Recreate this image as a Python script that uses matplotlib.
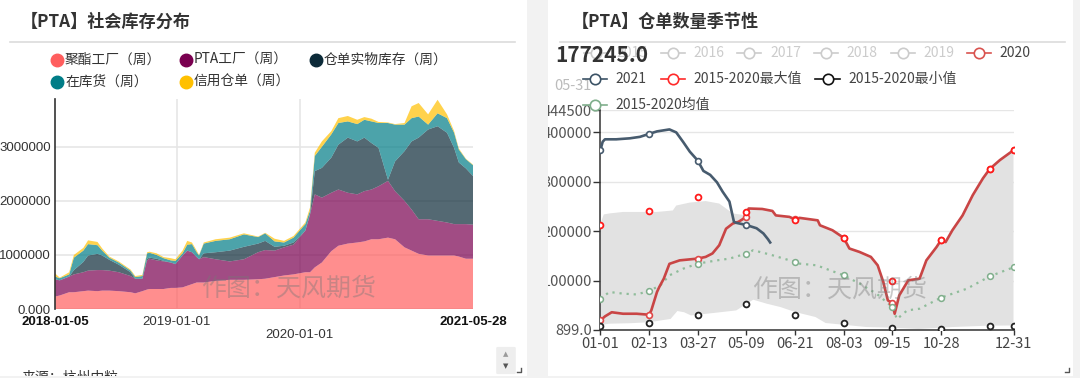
import numpy as np
import pandas as pd
import matplotlib
matplotlib.use('Agg')
import matplotlib.pyplot as plt
import matplotlib.dates as mdates
from matplotlib.lines import Line2D
from matplotlib.patches import Rectangle, FancyBboxPatch

plt.rcParams['font.family'] = ['Noto Sans CJK SC', 'DejaVu Sans']

W, H = 1080, 378


def fx(x):
    return x / W


def fy(y):
    return 1 - y / H


# ---------- left: social inventory (10k tonnes) ----------
stock_dates = ['2018-01-05', '2018-01-19', '2018-02-16', '2018-03-02', '2018-03-30', '2018-04-13',
               '2018-05-11', '2018-05-25', '2018-06-15', '2018-07-13', '2018-08-17', '2018-08-31',
               '2018-09-21', '2018-10-05', '2018-10-12', '2018-11-02', '2018-11-23', '2018-12-14',
               '2018-12-28', '2019-01-18', '2019-02-01', '2019-02-15', '2019-03-01', '2019-03-08',
               '2019-03-22', '2019-04-26', '2019-06-07', '2019-07-19', '2019-08-30', '2019-09-20',
               '2019-10-18', '2019-11-15', '2019-12-13', '2020-01-17', '2020-01-31', '2020-02-14',
               '2020-03-06', '2020-04-03', '2020-04-24', '2020-05-22', '2020-06-19', '2020-07-10',
               '2020-07-31', '2020-08-21', '2020-09-18', '2020-10-09', '2020-11-06', '2020-11-27',
               '2020-12-18', '2021-01-15', '2021-02-12', '2021-03-12', '2021-04-02', '2021-04-16',
               '2021-05-07', '2021-05-28']
polyester = [23, 25, 31, 31, 33, 34, 33, 34, 34, 33, 31, 29, 33, 36, 37, 37, 37, 39, 39,
             40, 43, 46, 49, 49, 49, 52, 54, 54, 55, 56, 59, 62, 64,
             68, 68, 77, 86, 107, 117, 121, 123, 125, 129, 129, 132, 129, 114, 108, 102,
             99, 99, 99, 99, 97, 93, 93]
pta_plant = [32, 28, 29, 33, 35, 37, 39, 38, 37, 35, 30, 27, 23, 54, 56, 53, 51, 47, 44,
             59, 65, 59, 47, 43, 47, 40, 34, 38, 50, 53, 49, 52, 55,
             77, 107, 135, 120, 108, 104, 94, 89, 93, 92, 98, 105, 89, 86, 76, 64,
             67, 64, 61, 58, 60, 64, 63]
warrant_physical = [0, 0, 0, 8, 19, 28, 30, 27, 20, 14, 7, 0, 0, 3, 2, 3, 1, 0, 0,
                    0, 0, 0, 0, 0, 7, 13, 20, 23, 16, 17, 7, 3, 4,
                    0, 0, 43, 55, 65, 83, 102, 98, 99, 86, 71, 2, 55, 92, 126, 151,
                    166, 175, 166, 141, 114, 103, 90]
in_stock = [5, 4, 4, 23, 21, 21, 16, 9, 4, 4, 3, 3, 5, 10, 9, 7, 5, 4, 6,
            4, 11, 15, 9, 7, 18, 21, 21, 23, 12, 14, 10, 6, 9,
            12, 7, 28, 39, 43, 40, 30, 32, 33, 40, 46, 105, 68, 49, 43, 39,
            9, 24, 27, 28, 24, 17, 20]
credit_warrant = [6, 1, 4, 5, 5, 7, 6, 4, 2, 2, 2, 2, 2, 2, 2, 3, 2, 4, 3,
                  5, 7, 3, 3, 1, 2, 3, 3, 2, 1, 1, 5, 3, 3,
                  3, 6, 6, 10, 6, 9, 10, 8, 5, 5, 2, 1, 1, 3, 22, 25,
                  19, 25, 7, 3, 2, 1, 1]
stock_labels = ['聚酯工厂（周）', 'PTA工厂（周）', '仓单实物库存（周）', '在库货（周）', '信用仓单（周）']
stock_colors = ['#ff5e5e', '#7a0050', '#0c2a38', '#007d87', '#ffc000']
left_yticks = [0, 1000000, 2000000, 3000000]
left_ytick_labels = ['0.000', '1000000', '2000000', '3000000']
left_xticks = ['2018-01-05', '2019-01-01', '2020-01-01', '2021-05-28']

# ---------- right: warrant seasonality (day of year, tonnes/1000) ----------
season_ticks = [0, 43, 86, 129, 172, 215, 258, 301, 365]
season_tick_labels = ['01-01', '02-13', '03-27', '05-09', '06-21', '08-03', '09-15', '10-28', '12-31']
marker_days = [0, 43, 86, 129, 172, 215, 258, 301, 344, 365]

y2020_days = [0, 4, 10, 20, 32, 43, 45, 50, 52, 56, 61, 70, 86, 93, 99, 105, 111, 117, 122, 129,
              131, 143, 152, 155, 167, 172, 176, 192, 194, 205, 215, 220, 229, 239, 245, 250,
              254, 258, 260, 264, 272, 282, 288, 297, 301, 305, 311, 320, 329, 338, 344, 353, 365]
y2020_vals = [19.5, 27.6, 36, 33, 33, 31, 40, 77, 87, 104, 134, 141, 144.6, 148, 155, 171.6, 205,
              215.6, 219, 229, 246, 245, 241, 232, 229, 224, 227, 222, 212, 202, 186.6, 165, 158,
              148, 131, 97, 60, 55, 33, 70, 100.6, 104, 141, 168, 182, 178, 202, 232, 273, 307,
              326, 344, 364]
y2021_days = [0, 2, 4, 14, 26, 35, 43, 50, 61, 67, 73, 79, 86, 91, 97, 103, 108, 114, 118, 120,
              129, 138, 144, 148, 150]
y2021_vals = [364, 381, 386, 386, 388, 391, 397, 402, 406, 400, 381, 361, 343, 322, 314, 299, 280,
              260, 219, 217, 212.5, 206, 195.5, 184, 177.245]
mean_days = [0, 8, 20, 32, 43, 53, 61, 73, 86, 103, 114, 129, 135, 150, 172, 176, 191, 215, 229,
             244, 258, 262, 271, 282, 301, 324, 344, 365]
mean_vals = [63.5, 77, 73.7, 72, 79, 90.5, 110.7, 124, 134.4, 141, 144.5, 154.8, 161.5, 152.7,
             137.8, 134.4, 131, 110.7, 94, 73.6, 46.5, 22, 39.7, 43.2, 65.6, 83.8, 108.7, 127]
max_vals = [212, 240.5, 269.5, 238, 223.7, 185.8, 98.6, 181.7, 326, 363.6]
min_vals = [7.3, 14.8, 29.6, 53.3, 31, 14, 4.7, 2.7, 8.8, 7.3]
band_top_days = [0, 3, 8, 20, 50, 64, 67, 79, 93, 105, 111, 117, 126, 129]
band_top_vals = [215.6, 234, 236, 239, 239, 242, 252, 258, 261, 256, 246, 236, 233, 233]
band_low_days = [0, 7, 26, 43, 62, 68, 74, 80, 99, 120, 135, 147, 159, 172, 190, 199, 214, 235,
                 257, 281, 311, 342, 365]
band_low_vals = [9.3, 12.8, 13.8, 15.8, 22.5, 38.5, 36, 29.6, 34.3, 39.7, 61.4, 53.3, 46.6, 36.5,
                 26.4, 14.2, 10.9, 6.1, 4.8, 2.1, 6.1, 8.8, 9.3]
right_yticks = [899, 100000, 200000, 300000, 400000, 444500]
right_ytick_labels = ['899.0', '100000', '200000', '300000', '400000', '444500']

fig = plt.figure(figsize=(W / 100, H / 100), dpi=100)
fig.patch.set_facecolor('white')

# ================= left panel =================
ax1 = fig.add_axes([fx(55), fy(309), fx(473) - fx(55), (309 - 98.9) / H])
dates = pd.to_datetime(stock_dates)
layers = [np.array(s) * 1e4 for s in [polyester, pta_plant, warrant_physical, in_stock, credit_warrant]]
ax1.stackplot(dates, layers, colors=stock_colors, alpha=0.7, linewidth=0, zorder=2)
ax1.set_xlim(pd.Timestamp(stock_dates[0]), pd.Timestamp(stock_dates[-1]))
ax1.set_ylim(0, 3.886e6)
ax1.set_yticks(left_yticks)
ax1.set_yticklabels(left_ytick_labels, family='Liberation Sans', fontsize=9.5, color='#333333')
ax1.tick_params(axis='y', length=0, pad=3)
ax1.set_xticks([])
ax1.grid(axis='y', color='#e6e6e6', lw=1.2, zorder=0)
for d in left_xticks[1:3]:
    ax1.axvline(pd.Timestamp(d), color='#e6e6e6', lw=1.2, zorder=0)
for s in ['top', 'right', 'bottom']:
    ax1.spines[s].set_visible(False)
ax1.spines['left'].set_color('#333333')
ax1.spines['left'].set_linewidth(1.2)
ax1.set_axisbelow(True)

axh = 309 - 98.9
for i, d in enumerate(left_xticks):
    bold = i in (0, 3)
    row_off = 26 if i == 2 else 13.3
    ax1.text(mdates.date2num(pd.Timestamp(d)), -row_off / axh, d, transform=ax1.get_xaxis_transform(),
             ha='center', va='center', family='Liberation Sans', fontsize=9.5,
             fontweight='bold' if bold else 'normal', color='#111111' if bold else '#333333')

fig.text(fx(289), fy(289), '作图：天风期货', fontsize=18, color='#777777', alpha=0.4,
         ha='center', va='center', zorder=6)

fig.text(fx(21), fy(22), '【PTA】社会库存分布', fontsize=12.3, fontweight='bold', color='#333333',
         va='center', ha='left')
fig.add_artist(Line2D([fx(10), fx(515)], [fy(42.3)] * 2, transform=fig.transFigure, color='#dcdcdc', lw=1.2))

leg_pos = [(57, 60), (186, 60), (316, 60), (57, 82), (186, 82)]
for (lx, ly), lab, col in zip(leg_pos, stock_labels, stock_colors):
    fig.add_artist(Line2D([fx(lx)], [fy(ly)], transform=fig.transFigure, marker='o', ms=9,
                          color=col, linestyle='none'))
    fig.text(fx(lx + 8), fy(ly), lab, fontsize=9.9, color='#333333', va='center', ha='left')

fig.text(fx(22), fy(370.5), '来源：杭州中粒', fontsize=10, color='#333333', va='top', ha='left')
fig.add_artist(FancyBboxPatch((fx(498), fy(373)), fx(16), 25 / H, boxstyle='round,pad=0.001',
                              transform=fig.transFigure, color='#eeeeee', zorder=4))
fig.text(fx(506), fy(354), '▲', fontsize=5, color='#9a9a9a', ha='center', va='center',
         family='DejaVu Sans', zorder=5)
fig.text(fx(506), fy(366), '▼', fontsize=5, color='#555555', ha='center', va='center',
         family='DejaVu Sans', zorder=5)

# ================= right panel =================
ax2 = fig.add_axes([fx(600.4), fy(329.6), (1013.5 - 600.4) / W, (329.6 - 110.4) / H])
k = 1000.0
top_x = band_top_days + [d for d in y2020_days if d > band_top_days[-1]]
top_y = band_top_vals + [v for d, v in zip(y2020_days, y2020_vals) if d > band_top_days[-1]]
poly_x = top_x + band_low_days[::-1]
poly_y = top_y + band_low_vals[::-1]
ax2.fill(poly_x, np.array(poly_y) * k, color='#e2e2e2', lw=0, zorder=1)

ax2.plot(mean_days, np.array(mean_vals) * k, color='#8fbc9a', lw=1.6, ls=(0, (1, 2.2)), zorder=2)
ax2.plot(marker_days, np.array(max_vals) * k, ls='none', marker='o', ms=4.2, mfc='white',
         mec='#ff1a1a', mew=1.3, zorder=5)
ax2.plot(marker_days, np.array(min_vals) * k, ls='none', marker='o', ms=4.2, mfc='white',
         mec='#222222', mew=1.3, zorder=5)
ax2.plot(marker_days, np.interp(marker_days, mean_days, mean_vals) * k, ls='none', marker='o', ms=4.2,
         mfc='white', mec='#7fae8b', mew=1.1, zorder=4)

idx20 = [y2020_days.index(d) for d in marker_days]
ax2.plot(y2020_days, np.array(y2020_vals) * k, color='#c94545', lw=1.9, zorder=3,
         marker='o', markevery=idx20, ms=4.2, mfc='white', mec='#e04848', mew=1.2)
idx21 = [y2021_days.index(d) for d in marker_days if d in y2021_days]
ax2.plot(y2021_days, np.array(y2021_vals) * k, color='#475b6e', lw=1.9, zorder=3,
         marker='o', markevery=idx21, ms=4.2, mfc='white', mec='#475b6e', mew=1.2)

ax2.set_xlim(0, 365)
ax2.set_ylim(899, 444500)
ax2.set_xticks(season_ticks)
ax2.set_xticklabels(season_tick_labels, fontsize=10.5, color='#444444')
ax2.set_yticks(right_yticks)
ax2.set_yticklabels(right_ytick_labels, fontsize=10.6, color='#555555')
ax2.tick_params(axis='x', length=3.6, width=1, color='#333333', pad=2)
ax2.tick_params(axis='y', length=5, width=1, color='#333333', pad=1)
ax2.grid(axis='y', color='#e6e6e6', lw=1, zorder=0)
ax2.set_axisbelow(True)
for s in ['top', 'right']:
    ax2.spines[s].set_visible(False)
for s in ['left', 'bottom']:
    ax2.spines[s].set_color('#333333')
    ax2.spines[s].set_linewidth(1.1)

fig.text(fx(840), fy(290), '作图：天风期货', fontsize=18, color='#777777', alpha=0.4,
         ha='center', va='center', zorder=6)

fig.text(fx(572), fy(22), '【PTA】仓单数量季节性', fontsize=12.3, fontweight='bold', color='#333333',
         va='center', ha='left')
fig.add_artist(Line2D([fx(560), fx(1065)], [fy(42)] * 2, transform=fig.transFigure, color='#dcdcdc', lw=1.2))

fig.text(fx(554), fy(86), '05-31', fontsize=10.5, color='#bbbbbb', va='center', ha='left', zorder=1)

season_legend = [
    (595.8, 53.3, '#cccccc', '2015', '#cccccc'),
    (672.6, 53.3, '#cccccc', '2016', '#cccccc'),
    (749.4, 53.3, '#cccccc', '2017', '#cccccc'),
    (825.8, 53.3, '#cccccc', '2018', '#cccccc'),
    (902.6, 53.3, '#cccccc', '2019', '#cccccc'),
    (979.0, 53.3, '#d9534f', '2020', '#444444'),
    (595.0, 79.0, '#3c5366', '2021', '#444444'),
    (673.3, 79.0, '#ff2a2a', '2015-2020最大值', '#444444'),
    (827.5, 79.0, '#111111', '2015-2020最小值', '#444444'),
    (595.0, 105.0, '#7fae8b', '2015-2020均值', '#444444'),
]
for lx, ly, col, lab, tcol in season_legend:
    fig.add_artist(Line2D([fx(lx - 12), fx(lx + 12)], [fy(ly)] * 2, transform=fig.transFigure,
                          color=col, lw=1.2, zorder=2))
    fig.add_artist(Line2D([fx(lx)], [fy(ly)], transform=fig.transFigure, marker='o', ms=7.5,
                          mfc='white', mec=col, mew=1.2, linestyle='none', zorder=2))
    fig.text(fx(lx + 20.6), fy(ly), lab, fontsize=10, color=tcol, va='center', ha='left', zorder=2)

fig.text(fx(555), fy(55), '177245.0', fontsize=15, fontweight='bold', color='#333333',
         va='center', ha='left', zorder=5)

# page background strips
fig.add_artist(Rectangle((fx(527), 0), fx(548) - fx(527), 1, transform=fig.transFigure,
                         color='#f2f2f2', lw=0, zorder=10))
fig.add_artist(Rectangle((fx(1073), 0), fx(1080) - fx(1073), 1, transform=fig.transFigure,
                         color='#f2f2f2', lw=0, zorder=10))
fig.add_artist(Rectangle((0, 0), 1, 2 / H, transform=fig.transFigure, color='#f2f2f2', lw=0, zorder=10))
for cx in (521, 1069):
    fig.add_artist(Line2D([fx(cx - 4), fx(cx), fx(cx)], [fy(372), fy(372), fy(368)],
                          transform=fig.transFigure, color='#555555', lw=1, zorder=11))

fig.savefig('out.png', dpi=100, facecolor='white')
